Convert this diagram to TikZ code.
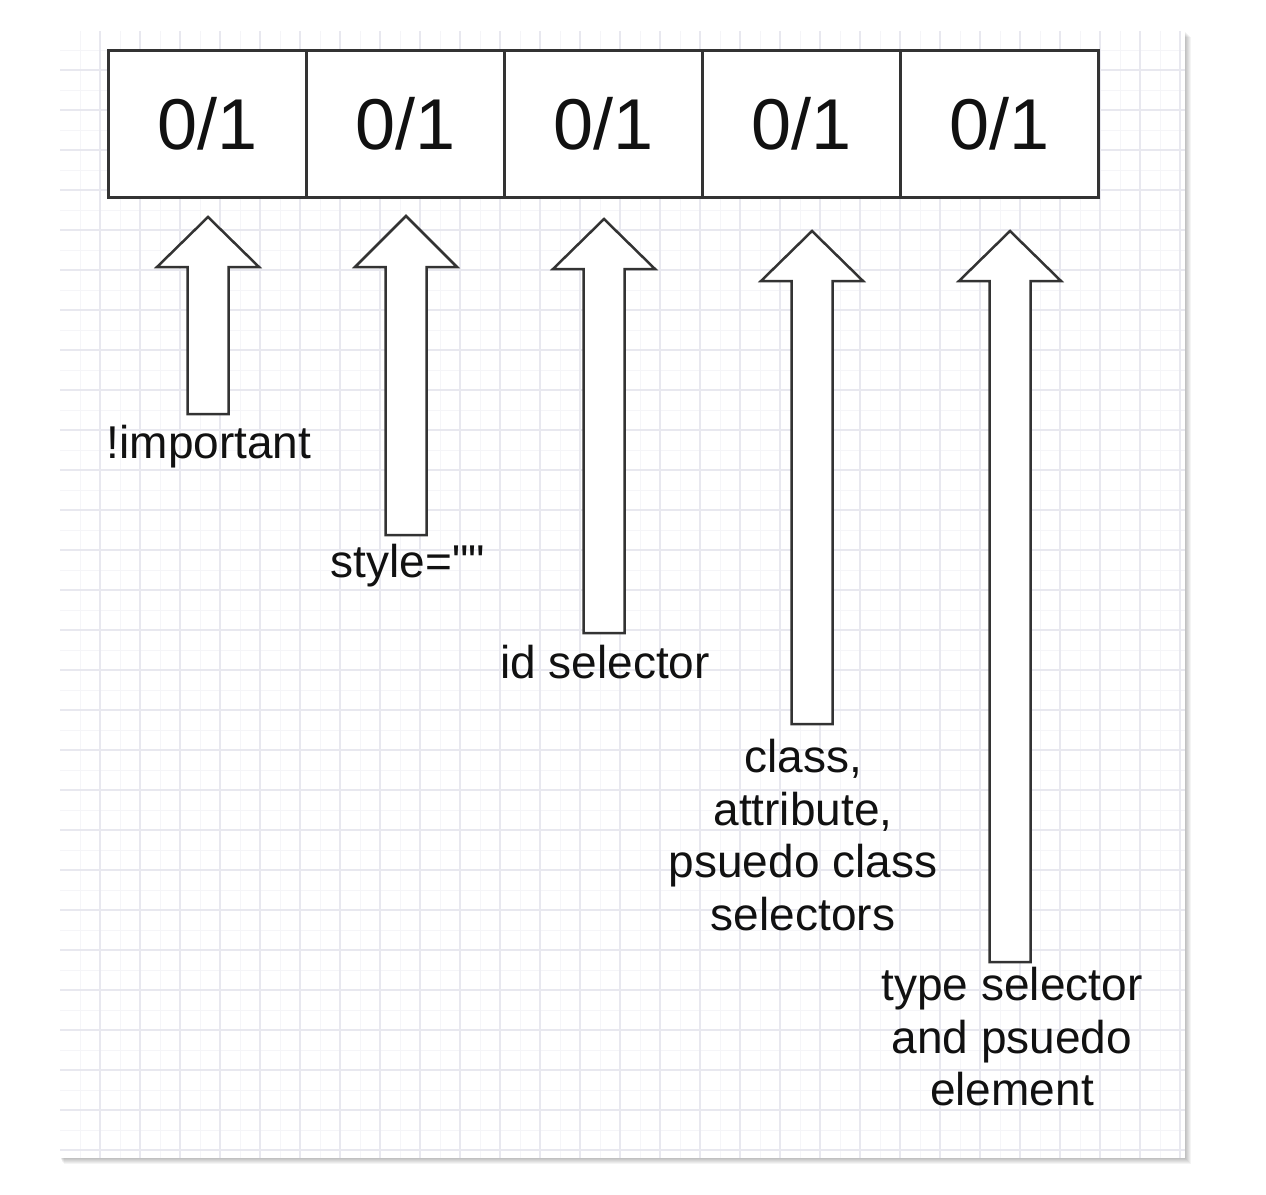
\documentclass[tikz,border=0pt]{standalone}
\usepackage{fontspec}
\setmainfont{Liberation Sans}[Ligatures=TeXOff]
\definecolor{gridmajor}{HTML}{E8E8EF}
\definecolor{gridminor}{HTML}{F5F5F8}
\definecolor{linecol}{HTML}{333333}
\definecolor{textcol}{HTML}{111111}
\newcommand\blockarrow[5]{% name, cx, tip y, base y, bottom y
  \draw[arrowline] (#2-20.5,#5) coordinate (#1-bottom) -- (#2-20.5,#4) -- (#2-51,#4)
    -- (#2,#3) coordinate (#1-tip) -- (#2+51,#4) -- (#2+20.5,#4) -- (#2+20.5,#5) -- cycle;
}
\begin{document}
\begin{tikzpicture}[x=1pt,y=-1pt,
  cell/.style={draw=linecol,line width=3pt,fill=white,minimum width=198pt,minimum height=147pt,inner sep=0pt,
    font=\fontsize{72}{80}\selectfont,text=textcol},
  arrowline/.style={draw=linecol,line width=2.5pt,fill=white,line join=miter},
  lab/.style={font=\fontsize{46}{52.5}\selectfont,text=textcol,inner sep=0pt,align=center}]
\useasboundingbox (0,0) rectangle (1266,1194);
\fill[white] (0,0) rectangle (1266,1194);
% shadow
\foreach \s in {1,...,6}
  \fill[black,opacity=0.045] (60+\s*0.6,31+\s) rectangle (1185+\s,1158+\s);
\fill[white] (60,31) rectangle (1185,1158);
% grid
\foreach \x in {80,120,...,1180} \draw[gridminor,line width=1pt] (\x,31) -- (\x,1158);
\foreach \y in {50,90,...,1150} \draw[gridminor,line width=1pt] (60,\y) -- (1185,\y);
\foreach \x in {100,140,...,1180} \draw[gridmajor,line width=1.2pt] (\x,31) -- (\x,1158);
\foreach \y in {70,110,...,1150} \draw[gridmajor,line width=1.2pt] (60,\y) -- (1185,\y);
% boxes
\foreach \i in {1,...,5}
  \node[cell] (b\i) at (108+99.1+198.2*\i-198.2,123.5) {0/1};
% arrows
\blockarrow{a1}{208}{217}{267}{414}
\blockarrow{a2}{406}{216}{267}{535}
\blockarrow{a3}{604}{219}{269}{633}
\blockarrow{a4}{812}{231}{281}{724}
\blockarrow{a5}{1010}{231}{281}{962}
% labels
\node[lab,anchor=base] (l1) at (209,458) {!important};
\node[lab,anchor=base] (l2) at (408,577) {style=""};
\node[lab,anchor=base] (l3) at (605,678) {id selector};
\node[lab,anchor=north] (l4) at (803,739) {class,\\attribute,\\psuedo class\\selectors};
\node[lab,anchor=north] (l5) at (1012,967) {type selector\\and psuedo\\element};
\end{tikzpicture}
\end{document}
